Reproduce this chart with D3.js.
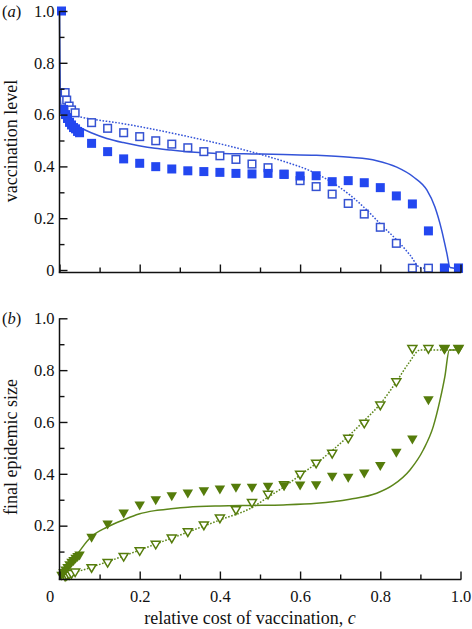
<!DOCTYPE html>
<html><head><meta charset="utf-8">
<script src="https://cdn.jsdelivr.net/npm/d3@7"></script>
<style>body{margin:0;background:#fff}svg{display:block}
svg text{font-family:"Liberation Serif","Times New Roman","DejaVu Serif",serif;}</style>
</head><body><svg id="chart" width="472" height="629"></svg>
<script>
// ---------- data ----------
const costEarly = [0.005,0.01,0.015,0.02,0.025,0.03,0.035,0.04,0.045,0.05];
const costOpenEarly = [0.014,0.018,0.024,0.030,0.039];
const costGrid = [0.08,0.12,0.16,0.20,0.24,0.28,0.32,0.36,0.40,0.44,0.48,0.52,0.56,0.60,0.64,0.68,0.72,0.76,0.80,0.84,0.88,0.92,0.96,0.995];

// panel (a): vaccination level
const vaccFilledEarly = [1.0,0.62,0.60,0.585,0.57,0.56,0.55,0.545,0.535,0.53];
const vaccFilled = [0.489,0.457,0.429,0.412,0.399,0.390,0.383,0.380,0.377,0.373,0.371,0.373,0.369,0.363,0.364,0.341,0.345,0.337,0.318,0.286,0.255,0.151,0.007,0.007];
const vaccOpenEarly = [0.685,0.656,0.633,0.618,0.607];
const vaccOpen = [0.569,0.547,0.530,0.515,0.499,0.486,0.472,0.457,0.441,0.427,0.409,0.395,0.370,0.345,0.322,0.293,0.257,0.216,0.165,0.103,0.007,0.007,0.007,0.007];

const modelCostSolidA = [0,0.002,0.005,0.01,0.022,0.047,0.079,0.118,0.159,0.198,0.238,0.278,0.32,0.36,0.40,0.44,0.48,0.558,0.641,0.724,0.791,0.841,0.882,0.916,0.936,0.953,0.966,0.974,1.0];
const vaccSolid = [1.0,0.66,0.625,0.60,0.573,0.553,0.530,0.508,0.492,0.480,0.470,0.463,0.457,0.453,0.450,0.449,0.448,0.446,0.443,0.435,0.422,0.397,0.360,0.309,0.244,0.154,0.064,0.010,0.005];
const modelCostDottedA = [0,0.018,0.055,0.155,0.321,0.486,0.558,0.625,0.683,0.724,0.766,0.807,0.841,0.874,0.899,0.93];
const vaccDotted = [0.62,0.605,0.59,0.566,0.515,0.453,0.42,0.383,0.335,0.29,0.232,0.167,0.116,0.058,0.010,0.005];

// panel (b): final epidemic size
const epiFilledEarly = [0.005,0.015,0.025,0.035,0.045,0.055,0.062,0.07,0.077,0.083];
const epiFilled = [0.151,0.203,0.245,0.276,0.296,0.312,0.322,0.331,0.338,0.344,0.344,0.348,0.350,0.353,0.354,0.387,0.383,0.399,0.428,0.479,0.530,0.682,0.878,0.878];
const epiOpenEarly = [0.002,0.005,0.008,0.012,0.018];
const epiOpen = [0.035,0.055,0.078,0.100,0.125,0.149,0.173,0.199,0.226,0.258,0.286,0.318,0.355,0.395,0.438,0.476,0.534,0.592,0.662,0.752,0.880,0.880,0.880,0.880];

const modelCostSolidB = [0,0.014,0.039,0.079,0.118,0.159,0.198,0.238,0.278,0.32,0.40,0.478,0.558,0.641,0.724,0.791,0.832,0.874,0.907,0.932,0.949,0.961,0.972,1.0];
const epiSolid = [0,0.035,0.08,0.157,0.194,0.222,0.245,0.258,0.265,0.271,0.276,0.278,0.280,0.286,0.302,0.325,0.357,0.415,0.492,0.582,0.685,0.775,0.878,0.878];
const modelCostDottedB = [0,0.02,0.08,0.16,0.24,0.32,0.40,0.48,0.52,0.56,0.60,0.64,0.68,0.72,0.76,0.80,0.84,0.87,0.90,1.0];
const epiDotted = [0,0.01,0.04,0.083,0.129,0.175,0.222,0.27,0.31,0.35,0.395,0.44,0.49,0.545,0.605,0.67,0.755,0.825,0.878,0.878];

const yMajorTicksA = [0,0.2,0.4,0.6,0.8,1.0];
const yMajorTicksB = [0.2,0.4,0.6,0.8,1.0];
const yMinorTicks = [0.1,0.3,0.5,0.7,0.9];
const xMajorTicks = [0,0.2,0.4,0.6,0.8,1.0];
const xMinorTicks = [0.1,0.3,0.5,0.7,0.9];

// ---------- drawing ----------
const BLUE = "#2347f0", BLUE_LINE = "#3353d8", BLUE_OPEN = "#3552d2";
const GREEN = "#557c0b", GREEN_LINE = "#5c861a";

const svg = d3.select("#chart");
const x = d3.scaleLinear().domain([0,1]).range([59.5,460.5]);
const panels = [
  {y: d3.scaleLinear().domain([0,1]).range([270,11]), axisY: 272.5, majors: yMajorTicksA, xLabels:false,
   filled: costEarly.map((c,i)=>[c,vaccFilledEarly[i]]).concat(costGrid.map((c,i)=>[c,vaccFilled[i]])),
   open: costOpenEarly.map((c,i)=>[c,vaccOpenEarly[i]]).concat(costGrid.map((c,i)=>[c,vaccOpen[i]])),
   solid: modelCostSolidA.map((c,i)=>[c,vaccSolid[i]]),
   dotted: modelCostDottedA.map((c,i)=>[c,vaccDotted[i]]),
   shape: "square", color: BLUE, openColor: BLUE_OPEN, lineColor: BLUE_LINE,
   tag: "a", title: "vaccination level", titleY: 141},
  {y: d3.scaleLinear().domain([0,1]).range([577.5,318.3]), axisY: 579.5, majors: yMajorTicksB, xLabels:true,
   filled: costEarly.map((c,i)=>[c,epiFilledEarly[i]]).concat(costGrid.map((c,i)=>[c,epiFilled[i]])),
   open: costOpenEarly.map((c,i)=>[c,epiOpenEarly[i]]).concat(costGrid.map((c,i)=>[c,epiOpen[i]])),
   solid: modelCostSolidB.map((c,i)=>[c,epiSolid[i]]),
   dotted: modelCostDottedB.map((c,i)=>[c,epiDotted[i]]),
   shape: "triangle", color: GREEN, openColor: GREEN, lineColor: GREEN_LINE,
   tag: "b", title: "final epidemic size", titleY: 447}
];

const fmt = d => d === 0 ? "0" : d.toFixed(1);

panels.forEach(p => {
  const g = svg.append("g");
  const y = p.y;

  const line = d3.line().x(d=>x(d[0])).y(d=>y(d[1])).curve(d3.curveMonotoneX);
  g.append("path").datum(p.solid).attr("d", line)
    .attr("fill","none").attr("stroke",p.lineColor).attr("stroke-width",1.5);
  g.append("path").datum(p.dotted).attr("d", line)
    .attr("fill","none").attr("stroke",p.lineColor).attr("stroke-width",1.5)
    .attr("stroke-dasharray","1.6,1.6");

  const drawMarkers = (data, filled) => {
    if (p.shape === "square") {
      const s = filled ? 9 : 7.6;
      g.append("g").selectAll("rect").data(data).join("rect")
        .attr("x", d=>x(d[0])-s/2).attr("y", d=>y(d[1])-s/2)
        .attr("width", s).attr("height", s)
        .attr("fill", filled ? p.color : "#fff")
        .attr("stroke", filled ? "none" : p.openColor)
        .attr("stroke-width", filled ? 0 : 1.5);
    } else {
      const w = filled ? 10.5 : 9, h = filled ? 9 : 7.6;
      const tri = `M${-w/2},${-h/2}L${w/2},${-h/2}L0,${h/2}Z`;
      g.append("g").selectAll("path").data(data).join("path")
        .attr("transform", d=>`translate(${x(d[0])},${y(d[1])})`)
        .attr("d", tri)
        .attr("fill", filled ? p.color : "#fff")
        .attr("stroke", filled ? "none" : p.openColor)
        .attr("stroke-width", filled ? 0 : 1.5);
    }
  };
  drawMarkers(p.open, false);
  drawMarkers(p.filled, true);

  const yAx = g.append("g").attr("transform",`translate(${x(0)},0)`)
    .call(d3.axisLeft(y).tickValues(p.majors).tickSize(-8).tickSizeOuter(0).tickPadding(5).tickFormat(fmt));
  const yMin = g.append("g").attr("transform",`translate(${x(0)},0)`)
    .call(d3.axisLeft(y).tickValues(yMinorTicks).tickSize(-5).tickSizeOuter(0).tickFormat(""));
  const xAx = g.append("g").attr("transform",`translate(0,${p.axisY})`)
    .call(d3.axisBottom(x).tickValues(xMajorTicks).tickSize(-8).tickSizeOuter(0).tickPadding(10.5)
      .tickFormat(p.xLabels ? fmt : ""));
  const xMin = g.append("g").attr("transform",`translate(0,${p.axisY})`)
    .call(d3.axisBottom(x).tickValues(xMinorTicks).tickSize(-5).tickSizeOuter(0).tickFormat(""));
  [yAx,yMin,xAx,xMin].forEach(a => {
    a.attr("font-family", null);
    a.select(".domain").remove();
    a.selectAll("line").attr("stroke","#111").attr("stroke-width",1.4);
    a.selectAll("text").attr("font-size",16.5).attr("fill","#111");
  });
  xAx.selectAll(".tick").filter(d=>d===0).select("text").attr("dx",-10);

  g.append("line").attr("x1",x(0)).attr("x2",x(0)).attr("y1",y(1)).attr("y2",p.axisY)
    .attr("stroke","#111").attr("stroke-width",1.5);
  g.append("line").attr("x1",x(0)-0.75).attr("x2",x(1)+0.75).attr("y1",p.axisY).attr("y2",p.axisY)
    .attr("stroke","#111").attr("stroke-width",1.5);

  const tag = g.append("text").attr("x",2).attr("y",y(1)+6)
    .attr("font-size",16.5).attr("fill","#111");
  tag.append("tspan").text("(");
  tag.append("tspan").attr("font-style","italic").text(p.tag);
  tag.append("tspan").text(")");

  g.append("text").attr("transform",`translate(17,${p.titleY}) rotate(-90)`)
    .attr("text-anchor","middle").attr("font-size",18).attr("fill","#111")
    .text(p.title);
});

const xt = svg.append("text").attr("x",250).attr("y",624).attr("text-anchor","middle")
  .attr("font-size",18).attr("fill","#111");
xt.append("tspan").text("relative cost of vaccination, ");
xt.append("tspan").attr("font-style","italic").text("c");
</script>
</body></html>
